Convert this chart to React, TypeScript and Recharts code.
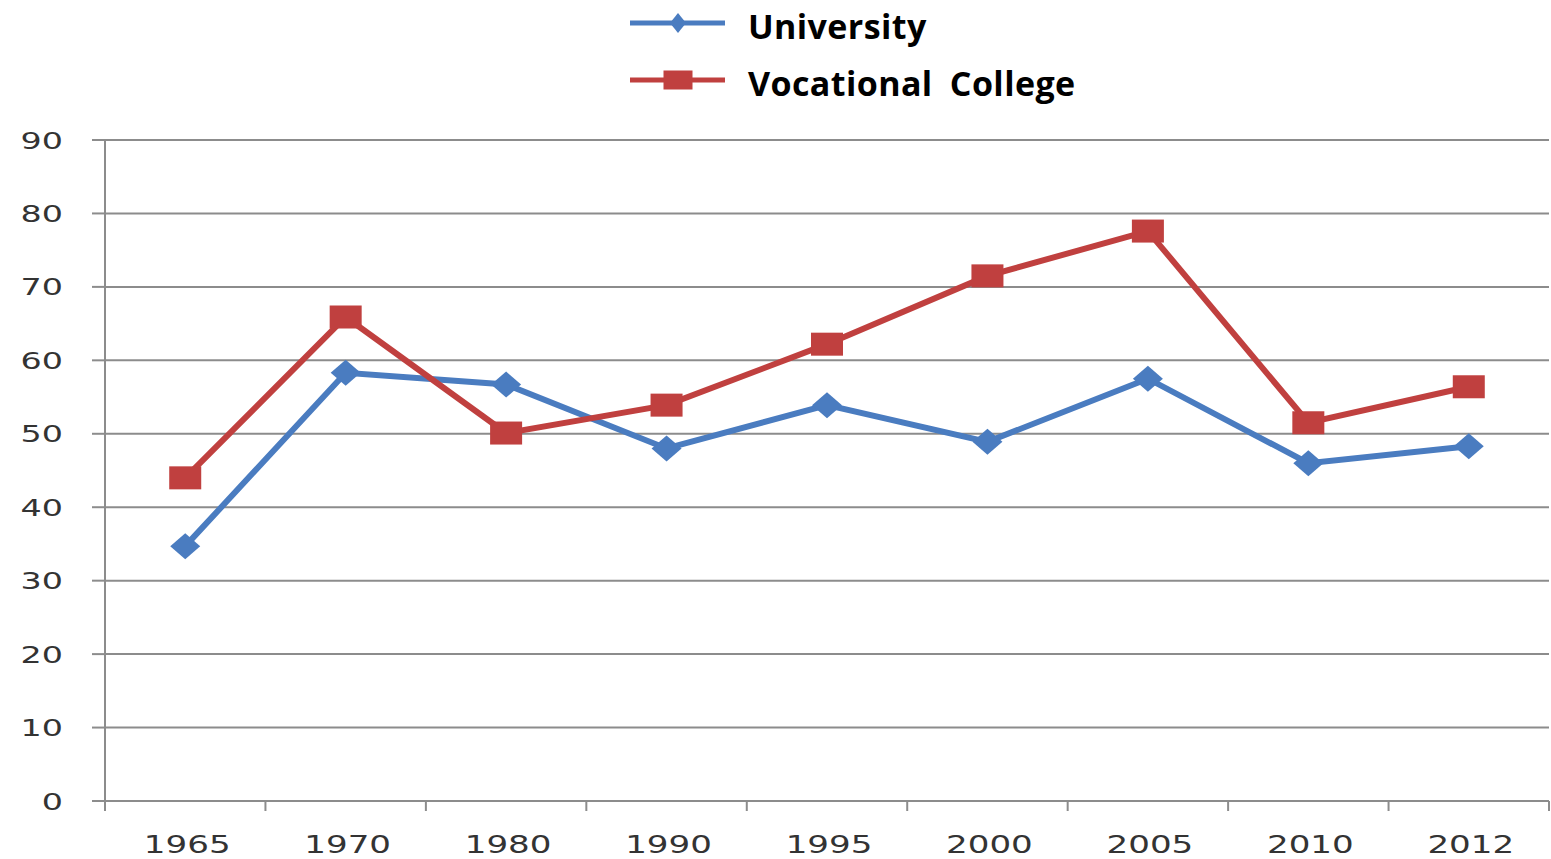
import { CartesianGrid, Legend, Line, LineChart, XAxis, YAxis } from "recharts";

// Enrolment rate (%) by year and school type
const years = ["1965", "1970", "1980", "1990", "1995", "2000", "2005", "2010", "2012"];
const university = [34.7, 58.3, 56.7, 48.0, 53.9, 48.9, 57.5, 46.0, 48.3];
const vocational = [44.0, 65.9, 50.1, 53.9, 62.2, 71.5, 77.6, 51.5, 56.4];
const yTicks = [0, 10, 20, 30, 40, 50, 60, 70, 80, 90];

const BLUE = "#4a7cc0";
const RED = "#c0403f";
const GRID = "#8c8c8c";
const TICK_TEXT = "#333";

const data = years.map((year, i) => ({
  year,
  university: university[i],
  vocational: vocational[i],
}));

function Diamond({ cx, cy, w, h, fill }: { cx: number; cy: number; w: number; h: number; fill: string }) {
  return <path d={`M${cx},${cy - h / 2}L${cx + w / 2},${cy}L${cx},${cy + h / 2}L${cx - w / 2},${cy}Z`} fill={fill} />;
}

function Square({ cx, cy, w, h, fill }: { cx: number; cy: number; w: number; h: number; fill: string }) {
  return <rect x={cx - w / 2} y={cy - h / 2} width={w} height={h} fill={fill} />;
}

function DiamondDot(props: any) {
  const { cx, cy, index } = props;
  if (cx == null || cy == null) return null;
  return <Diamond key={`d-${index}`} cx={cx} cy={cy} w={30} h={26} fill={BLUE} />;
}

function SquareDot(props: any) {
  const { cx, cy, index } = props;
  if (cx == null || cy == null) return null;
  return <Square key={`s-${index}`} cx={cx} cy={cy} w={32} h={23} fill={RED} />;
}

// Year label centred in its band, tick marks on the band edges
function YearTick(props: any) {
  const { x, y, payload, index, visibleTicksCount } = props;
  const half = payload?.offset || 80.2;
  const last = index === (visibleTicksCount ?? years.length) - 1;
  return (
    <g>
      <line x1={x - half} y1={y} x2={x - half} y2={y + 10} stroke={GRID} strokeWidth={2} />
      {last && <line x1={x + half} y1={y} x2={x + half} y2={y + 10} stroke={GRID} strokeWidth={2} />}
      <text
        transform={`translate(${x + 2} ${y + 52}) scale(1.42 1)`}
        textAnchor="middle"
        fontFamily="DejaVu Sans"
        fontSize={24}
        fill={TICK_TEXT}
      >
        {payload.value}
      </text>
    </g>
  );
}

function ValueTick(props: any) {
  const { x, y, payload } = props;
  return (
    <text
      transform={`translate(${x - 29} ${y + 8.5}) scale(1.45 1)`}
      textAnchor="end"
      fontFamily="DejaVu Sans"
      fontSize={23}
      fill={TICK_TEXT}
    >
      {payload.value}
    </text>
  );
}

function SeriesLegend({ payload }: any) {
  const items = payload ?? [];
  return (
    <svg width={480} height={110}>
      {items.map((entry: any, i: number) => {
        const cy = 23 + i * 57;
        const isUni = entry.dataKey === "university";
        return (
          <g key={entry.dataKey}>
            <line x1={2} y1={cy} x2={97} y2={cy} stroke={entry.color} strokeWidth={5} />
            {isUni ? (
              <Diamond cx={50} cy={cy} w={16} h={20} fill={entry.color} />
            ) : (
              <Square cx={50} cy={cy} w={29} h={19} fill={entry.color} />
            )}
            <text
              x={120}
              y={cy + 16}
              fontFamily="'Open Sans'"
              fontWeight={700}
              fontSize={34}
              letterSpacing={0.4}
              wordSpacing={8}
              fill="#000"
            >
              {entry.value}
            </text>
          </g>
        );
      })}
    </svg>
  );
}

export default function App() {
  return (
    <div style={{ position: "absolute", left: 0, top: 0, width: 1551, height: 859, background: "#fff" }}>
      <LineChart width={1551} height={859} data={data} margin={{ top: 140, right: 2, bottom: 0, left: 0 }}>
        <CartesianGrid vertical={false} stroke={GRID} strokeWidth={2} />
        <XAxis
          dataKey="year"
          scale="band"
          height={58}
          tickLine={false}
          tickSize={0}
          tickMargin={0}
          axisLine={{ stroke: GRID, strokeWidth: 2 }}
          tick={<YearTick />}
          interval={0}
        />
        <YAxis
          width={105}
          domain={[0, 90]}
          ticks={yTicks}
          interval={0}
          tickSize={13}
          tickMargin={0}
          tickLine={{ stroke: GRID, strokeWidth: 2 }}
          axisLine={{ stroke: GRID, strokeWidth: 2 }}
          tick={<ValueTick />}
        />
        <Legend
          layout="horizontal"
          verticalAlign="middle"
          align="center"
          content={<SeriesLegend />}
          wrapperStyle={{ left: 628, top: 0, width: 480, height: 110 }}
        />
        <Line
          dataKey="university"
          name="University"
          stroke={BLUE}
          strokeWidth={6}
          dot={<DiamondDot />}
          activeDot={false}
          isAnimationActive={false}
        />
        <Line
          dataKey="vocational"
          name="Vocational College"
          stroke={RED}
          strokeWidth={6}
          dot={<SquareDot />}
          activeDot={false}
          isAnimationActive={false}
        />
      </LineChart>
    </div>
  );
}
